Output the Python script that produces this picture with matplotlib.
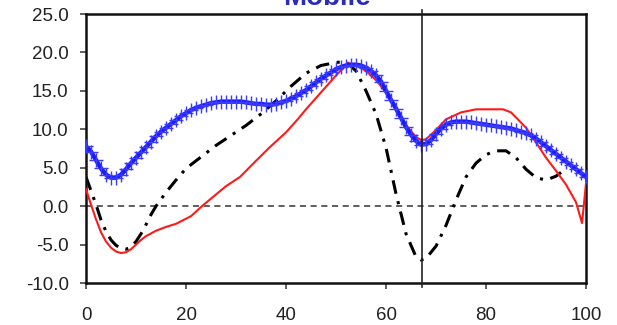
import matplotlib
matplotlib.use('Agg')
from matplotlib import pyplot

# blue series, one reading per unit of x (0..100)
blue_x = list(range(0, 101))
blue_y = [7.8, 7.1, 6.0, 4.9, 4.1, 3.7, 3.7, 4.1, 4.8, 5.6,
          6.3, 7.0, 7.7, 8.4, 9.1, 9.7, 10.2, 10.7, 11.2, 11.7,
          12.1, 12.5, 12.8, 13.0, 13.2, 13.4, 13.5, 13.6, 13.6, 13.6,
          13.6, 13.6, 13.5, 13.4, 13.3, 13.3, 13.2, 13.2, 13.3, 13.5,
          13.7, 14.0, 14.3, 14.7, 15.1, 15.6, 16.1, 16.6, 17.0, 17.4,
          17.8, 18.1, 18.3, 18.4, 18.4, 18.3, 18.0, 17.6, 17.0, 16.2,
          15.0, 13.8, 12.7, 11.5, 10.3, 9.3, 8.5, 8.0, 8.1, 8.6,
          9.4, 10.1, 10.6, 10.9, 11.0, 11.0, 11.0, 10.9, 10.8, 10.7,
          10.6, 10.5, 10.4, 10.3, 10.2, 10.1, 9.9, 9.7, 9.5, 9.2,
          8.8, 8.3, 7.8, 7.3, 6.8, 6.3, 5.8, 5.3, 4.8, 4.3,
          3.8]

red_x = [0, 1, 2, 3, 4, 5, 6, 7, 8, 9, 10, 11, 12, 14, 16, 18, 21, 23.2, 25.4,
         28, 30.8, 34, 36.8, 40, 42.2, 44, 47.4, 50, 52.4, 54, 56, 58, 60, 62, 64,
         66, 67, 68, 70, 72, 75, 78, 83.4, 85, 88, 90, 92, 94, 96, 98, 99.2, 100]
red_y = [2.2, 0.2, -1.7, -3.4, -4.6, -5.4, -5.9, -6.1, -6.0, -5.6, -5.0, -4.4, -3.9, -3.2,
         -2.7, -2.3, -1.3, 0.0, 1.2, 2.6, 3.8, 5.9, 7.7, 9.6, 11.2, 12.6, 15.1, 17.0, 18.6,
         18.3, 17.6, 16.4, 14.8, 12.7, 10.5, 9.0, 8.6, 8.7, 9.9, 11.3, 12.2, 12.6, 12.6,
         12.2, 10.2, 8.3, 6.3, 4.6, 2.8, 0.5, -2.2, 3.0]

black_x = [0, 1, 2, 3, 4, 5, 6, 7, 8, 9, 10, 11, 12, 13, 14, 16, 18, 20, 23, 26, 29,
           32, 35, 38, 41, 44, 47, 50, 52, 54, 56, 58, 60, 62, 64, 66, 67, 68, 70, 72,
           74, 76, 78, 80, 82, 84, 86, 88, 90, 92, 94, 95]
black_y = [3.8, 2.0, 0.2, -1.8, -3.3, -4.4, -5.1, -5.5, -5.6, -5.3, -4.6, -3.6, -2.4,
           -1.1, 0.0, 1.8, 3.4, 4.9, 6.4, 7.9, 9.2, 10.5, 12.0, 13.7, 15.6, 17.3, 18.3,
           18.7, 18.8, 17.6, 15.0, 12.0, 7.6, 1.6, -3.6, -6.6, -7.0, -6.8, -5.2, -2.5,
           0.8, 3.8, 5.6, 6.7, 7.2, 7.2, 6.3, 4.8, 3.7, 3.4, 3.9, 4.4]

divider_x = 67.2
y_ticks = [-10, -5, 0, 5, 10, 15, 20, 25]
x_ticks = [0, 20, 40, 60, 80, 100]
title_text = 'Mobile'

pyplot.rcParams['font.family'] = ['Liberation Sans', 'DejaVu Sans']

fig = pyplot.figure(figsize=(6.17, 3.25), dpi=100)
ax = fig.add_axes([0.1394, 0.1292, 0.8104, 0.8277])

ax.axhline(0, color='#333333', linestyle=(0, (4, 3)), linewidth=1.1, zorder=1)
ax.plot(black_x, black_y, color='black', linewidth=2.2,
        linestyle=(0, (4.5, 2.5, 1.0, 2.5)), zorder=2)
ax.plot(red_x, red_y, color='#ff1a1a', linewidth=1.5, zorder=3)
ax.plot(blue_x, blue_y, color='#1a1aff', linewidth=3.2, marker='+',
        markersize=10, markeredgewidth=1.0, markeredgecolor='#3b3bff', zorder=4)
ax.axvline(divider_x, ymin=-0.015, ymax=1.015, color='#222222',
           linewidth=1.2, clip_on=False, zorder=5)

ax.set_xlim(0, 100)
ax.set_ylim(-10, 25)
ax.set_xticks(x_ticks)
ax.set_yticks(y_ticks)
ax.set_yticklabels([f'{v:.1f}' for v in y_ticks])
ax.tick_params(axis='both', direction='out', length=4.5, width=1.2,
               labelsize=13.5, labelcolor='#222222', color='#444444')
ax.tick_params(axis='x', pad=13)
ax.tick_params(axis='y', pad=8)
for side in ['left', 'bottom', 'top', 'right']:
    ax.spines[side].set_linewidth(1.8)
    ax.spines[side].set_color('#111111')

fig.text(0.53, 0.986, title_text, color='#2d2db8', fontsize=20,
         fontweight='bold', ha='center', va='baseline')

fig.savefig('out.png', dpi=100)
